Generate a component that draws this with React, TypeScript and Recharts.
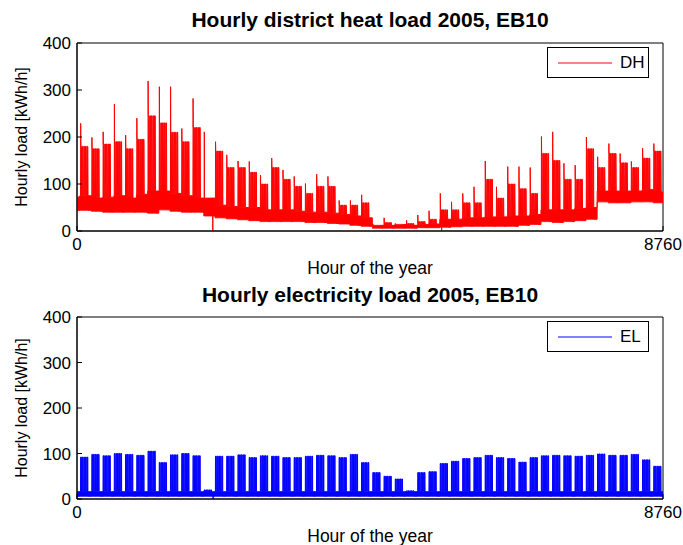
import { AreaChart, Area, XAxis, YAxis, ReferenceArea, Legend } from 'recharts'

const FONT = 'Arial, "Liberation Sans", Helvetica, sans-serif'

const xTicks = [0, 8760]
const yTicks = [0, 100, 200, 300, 400]

// District heat, one value per week (week k starts Monday 00:00 = hour 48 + 168k)
const dhPeak = [229, 199, 211, 270, 204, 240, 319, 307, 307, 218, 282, 211, 190, 162, 149, 148, 119, 155, 130, 116, 101, 121, 116, 65, 65, 77, 15, 28, 16, 23, 34, 43, 80, 62, 80, 94, 149, 94, 137, 137, 135, 201, 211, 144, 140, 200, 158, 186, 165, 148, 176, 186]
const dhTop = [180, 175, 185, 190, 175, 195, 245, 230, 210, 190, 220, 70, 170, 135, 135, 125, 100, 135, 110, 95, 80, 95, 95, 55, 55, 60, 12, 18, 14, 16, 20, 25, 45, 45, 60, 60, 110, 70, 100, 90, 80, 165, 150, 110, 110, 175, 135, 165, 145, 135, 155, 170]
const dhGap = [75, 70, 72, 75, 70, 78, 85, 85, 80, 75, 70, 70, 55, 52, 50, 50, 45, 45, 45, 42, 40, 40, 38, 35, 32, 28, 12, 12, 14, 12, 14, 15, 25, 25, 28, 28, 30, 30, 32, 32, 35, 45, 45, 45, 48, 50, 85, 85, 85, 85, 88, 85]
const dhLow = [44, 42, 40, 40, 40, 40, 38, 45, 42, 40, 40, 32, 28, 26, 24, 22, 20, 20, 20, 20, 18, 18, 16, 15, 12, 10, 6, 6, 6, 6, 7, 7, 8, 9, 10, 10, 10, 10, 10, 12, 14, 20, 18, 20, 22, 25, 62, 60, 60, 62, 62, 60]
const dhStart: [number, number] = [44, 70]
const dhEnd: [number, number] = [60, 80]
const dhGlitch = [
  { h: 2030, lo: 32, hi: 70 },
  { h: 5451, lo: 8, hi: 45 },
]

// Electricity, weekly peak of the working days
const elPeak = [92, 98, 95, 100, 98, 96, 105, 80, 97, 100, 95, 20, 94, 94, 97, 91, 95, 94, 91, 91, 94, 96, 95, 91, 98, 80, 58, 50, 44, 18, 58, 60, 78, 83, 89, 91, 96, 91, 89, 81, 91, 95, 96, 95, 94, 96, 99, 96, 96, 98, 86, 72]
const elLow = 6
const elWeekend = 16
const elGlitch = [2035]

const workDays = [0, 1, 2, 3, 4]

type Row = { h: number; v: [number, number] }

function buildDh(): Row[] {
  const rows: Row[] = [{ h: 0, v: dhStart }]
  dhPeak.forEach((p, k) => {
    const h0 = 48 + 168 * k
    const lo = dhLow[k]
    const gap = dhGap[k]
    const top = dhTop[k]
    rows.push({ h: h0, v: [lo, gap] })
    workDays.forEach((d) => {
      const t = h0 + 24 * d
      rows.push({ h: t + 5, v: [lo, gap] })
      rows.push({ h: t + 7, v: [lo, d === 0 ? p : top] })
      rows.push({ h: t + 10, v: [lo, top] })
      rows.push({ h: t + 18, v: [lo, top] })
      rows.push({ h: t + 21, v: [lo, gap] })
    })
    rows.push({ h: h0 + 167, v: [lo, gap] })
  })
  dhGlitch.forEach((g) => {
    rows.push({ h: g.h - 1, v: [g.lo, g.hi] })
    rows.push({ h: g.h, v: [0, g.hi] })
    rows.push({ h: g.h + 1, v: [g.lo, g.hi] })
  })
  const out = rows.filter((r) => r.h < 8760)
  out.push({ h: 8760, v: dhEnd })
  return out.sort((a, b) => a.h - b.h)
}

function buildEl(): Row[] {
  const rows: Row[] = [{ h: 0, v: [elLow, elWeekend] }]
  elPeak.forEach((p, k) => {
    const h0 = 48 + 168 * k
    workDays.forEach((d) => {
      const t = h0 + 24 * d
      rows.push({ h: t + 5, v: [elLow, elWeekend] })
      rows.push({ h: t + 6, v: [elLow, p] })
      rows.push({ h: t + 18, v: [elLow, p] })
      rows.push({ h: t + 19, v: [elLow, elWeekend] })
    })
  })
  elGlitch.forEach((g) => {
    rows.push({ h: g - 1, v: [elLow, elWeekend] })
    rows.push({ h: g, v: [0, elWeekend] })
    rows.push({ h: g + 1, v: [elLow, elWeekend] })
  })
  const out = rows.filter((r) => r.h < 8760)
  out.push({ h: 8760, v: [elLow, elWeekend] })
  return out.sort((a, b) => a.h - b.h)
}

const dhData = buildDh()
const elData = buildEl()

const tickStyle = { fontSize: 17, fill: '#000', fontFamily: FONT }

function LegendBox({ label, color }: { label: string; color: string }) {
  return (
    <div
      style={{
        position: 'relative',
        width: 100,
        height: 29,
        border: '1px solid #000',
        background: '#fff',
        fontFamily: FONT,
        fontSize: 17,
      }}
    >
      <svg width={100} height={29} style={{ position: 'absolute', left: 0, top: 0 }}>
        <line x1={10} x2={64} y1={15} y2={15} stroke={color} strokeWidth={1} />
      </svg>
      <span style={{ position: 'absolute', left: 72, top: 5, lineHeight: '20px' }}>{label}</span>
    </div>
  )
}

interface PanelProps {
  data: Row[]
  color: string
  name: string
  top: number
  height: number
  marginTop: number
  marginBottom: number
}

function LoadPanel({ data, color, name, top, height, marginTop, marginBottom }: PanelProps) {
  return (
    <div style={{ position: 'absolute', left: 0, top }}>
      <AreaChart
        width={683}
        height={height}
        data={data}
        margin={{ top: marginTop, right: 20, bottom: marginBottom, left: 37 }}
      >
        <XAxis
          dataKey="h"
          type="number"
          domain={[0, 8760]}
          ticks={xTicks}
          interval={0}
          tickSize={-5}
          tickMargin={12}
          height={30}
          tick={tickStyle}
          axisLine={{ stroke: '#000' }}
          tickLine={{ stroke: '#000' }}
        />
        <YAxis
          yAxisId="left"
          domain={[0, 400]}
          ticks={yTicks}
          interval={0}
          tickSize={-5}
          tickMargin={11}
          width={40}
          tick={tickStyle}
          axisLine={{ stroke: '#000' }}
          tickLine={{ stroke: '#000' }}
        />
        <YAxis
          yAxisId="right"
          orientation="right"
          domain={[0, 400]}
          ticks={yTicks}
          interval={0}
          tickSize={-5}
          width={0}
          tick={false}
          axisLine={{ stroke: '#000' }}
          tickLine={{ stroke: '#000' }}
        />
        <ReferenceArea
          yAxisId="left"
          x1={0}
          x2={8760}
          y1={0}
          y2={400}
          fill="none"
          stroke="#000"
          strokeWidth={1}
        />
        <Area
          yAxisId="left"
          type="linear"
          dataKey="v"
          name={name}
          stroke={color}
          strokeWidth={1}
          fill={color}
          fillOpacity={1}
          dot={false}
          activeDot={false}
          isAnimationActive={false}
        />
        <Legend
          verticalAlign="middle"
          align="center"
          layout="horizontal"
          wrapperStyle={{ top: marginTop + 4, left: 547, width: 102, height: 31 }}
          content={() => <LegendBox label={name} color={color} />}
        />
      </AreaChart>
    </div>
  )
}

function TextAt({ text, x, y, size, bold, rotate }: { text: string; x: number; y: number; size: number; bold?: boolean; rotate?: boolean }) {
  return (
    <div
      style={{
        position: 'absolute',
        left: x - 250,
        top: y - 9,
        width: 500,
        height: 18,
        lineHeight: '18px',
        textAlign: 'center',
        fontFamily: FONT,
        fontSize: size,
        fontWeight: bold ? 'bold' : 'normal',
        color: '#000',
        whiteSpace: 'nowrap',
        transform: rotate ? 'rotate(-90deg)' : undefined,
      }}
    >
      {text}
    </div>
  )
}

export default function App() {
  return (
    <div style={{ position: 'absolute', left: 0, top: 0, width: 683, height: 545, background: '#fff', overflow: 'hidden' }}>
      <LoadPanel data={dhData} color="#ff0000" name="DH" top={0} height={280} marginTop={43} marginBottom={19} />
      <LoadPanel data={elData} color="#0000ff" name="EL" top={275} height={270} marginTop={42} marginBottom={16} />
      <TextAt text="Hourly district heat load 2005, EB10" x={370} y={20} size={21} bold />
      <TextAt text="Hour of the year" x={370} y={268} size={17.5} />
      <TextAt text="Hourly load [kWh/h]" x={22} y={137} size={16} rotate />
      <TextAt text="Hourly electricity load 2005, EB10" x={370} y={295} size={21} bold />
      <TextAt text="Hour of the year" x={370} y={536} size={17.5} />
      <TextAt text="Hourly load [kWh/h]" x={22} y={408} size={16} rotate />
    </div>
  )
}
